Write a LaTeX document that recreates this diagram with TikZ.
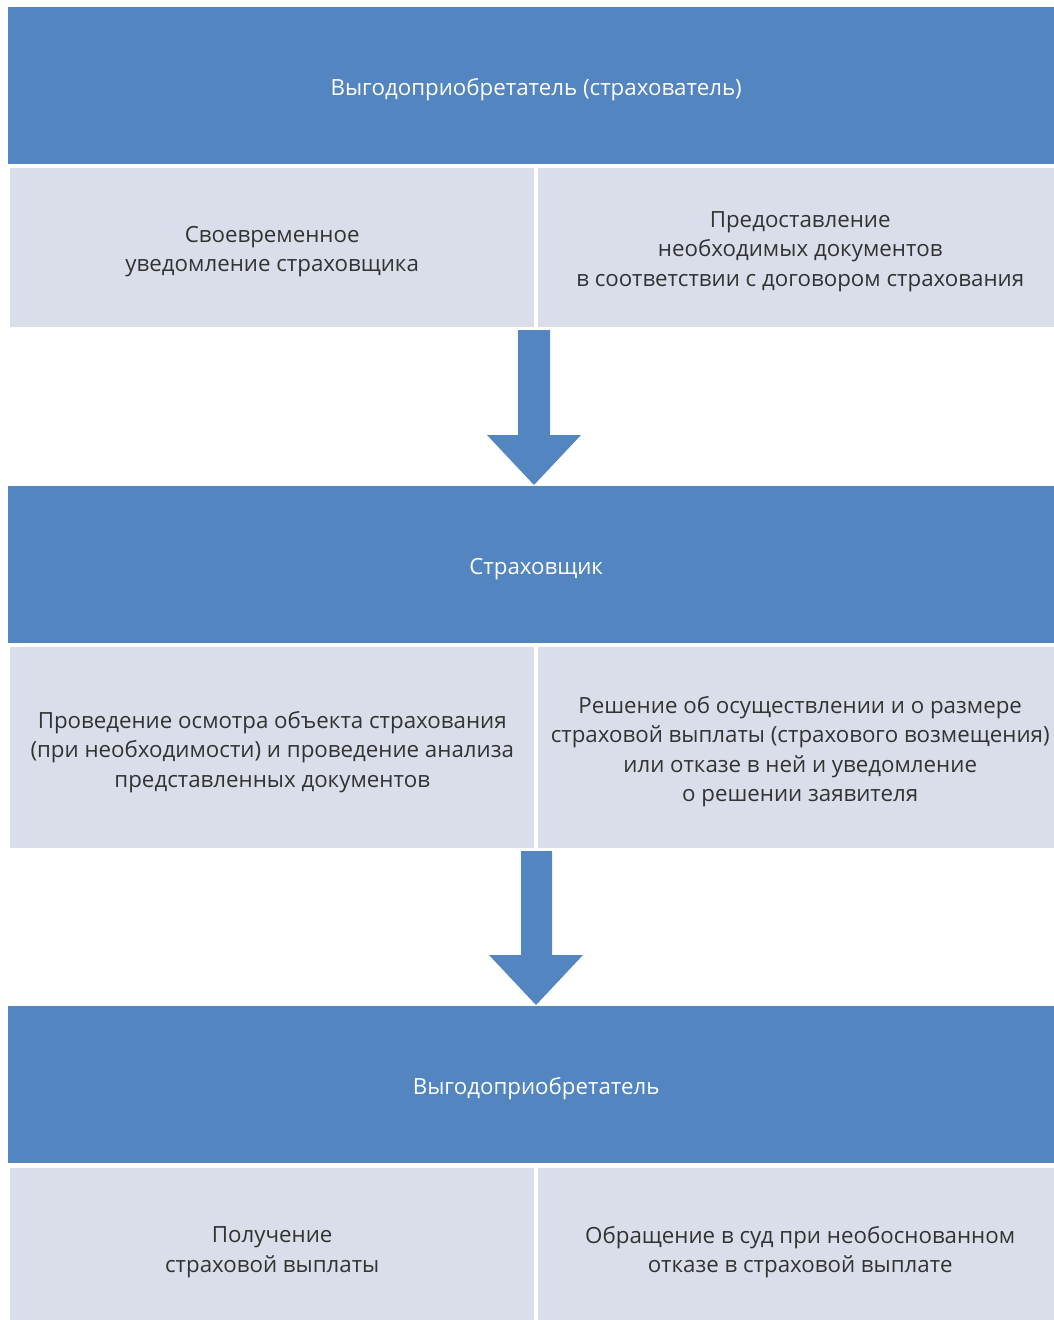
\documentclass[tikz,border=0pt]{standalone}
\usepackage{fontspec}
\setmainfont{Open Sans}
\definecolor{hdrblue}{RGB}{83,133,193}
\definecolor{cellgrey}{RGB}{217,222,234}
\definecolor{txtgrey}{RGB}{51,51,51}
\begin{document}
\begin{tikzpicture}[x=1pt,y=-1pt,
  hdr/.style={fill=hdrblue,draw=none,anchor=north west,inner sep=0pt,minimum width=1056pt,minimum height=157pt},
  cell/.style={fill=cellgrey,draw=none,anchor=north west,inner sep=0pt,minimum width=524pt},
  hdrtxt/.style={text=white,font=\fontsize{22.3}{30}\selectfont,align=center,inner sep=0pt,yshift=-4pt},
  celltxt/.style={text=txtgrey,font=\fontsize{22.3}{29.5}\selectfont,align=center,inner sep=0pt,yshift=-4pt},
  blockarrow/.style={fill=hdrblue,draw=none}]
\useasboundingbox (0,0) rectangle (1054,1320);
% boxes
\node[hdr] (h1) at (8,7) {};
\node[cell,minimum height=159pt] (c1l) at (10,168) {};
\node[cell,minimum height=159pt] (c1r) at (538,168) {};
\node[hdr] (h2) at (8,486) {};
\node[cell,minimum height=201pt] (c2l) at (10,647) {};
\node[cell,minimum height=201pt] (c2r) at (538,647) {};
\node[hdr] (h3) at (8,1006) {};
\node[cell,minimum height=160pt] (c3l) at (10,1168) {};
\node[cell,minimum height=160pt] (c3r) at (538,1168) {};
% texts
\node[hdrtxt] (t1) at (h1.center) {Выгодоприобретатель (страхователь)};
\node[celltxt] (t1l) at (c1l.center) {Своевременное\\уведомление страховщика};
\node[celltxt] (t1r) at (c1r.center) {Предоставление\\необходимых документов\\в соответствии с договором страхования};
\node[hdrtxt] (t2) at (h2.center) {Страховщик};
\node[celltxt] (t2l) at (c2l.center) {Проведение осмотра объекта страхования\\(при необходимости) и проведение анализа\\представленных документов};
\node[celltxt] (t2r) at (c2r.center) {Решение об осуществлении и о размере\\страховой выплаты (страхового возмещения)\\или отказе в ней и уведомление\\о решении заявителя};
\node[hdrtxt] (t3) at (h3.center) {Выгодоприобретатель};
\node[celltxt] (t3l) at (c3l.center) {Получение\\страховой выплаты};
\node[celltxt] (t3r) at (c3r.center) {Обращение в суд при необоснованном\\отказе в страховой выплате};
% arrows
\fill[blockarrow] (518,330) -- (550,330) -- (550,435) -- (581,435) -- (534,485) -- (487,435) -- (518,435) -- cycle;
\fill[blockarrow] (521,851) -- (552,851) -- (552,955) -- (583,955) -- (536,1005) -- (489,955) -- (521,955) -- cycle;
\end{tikzpicture}
\end{document}
